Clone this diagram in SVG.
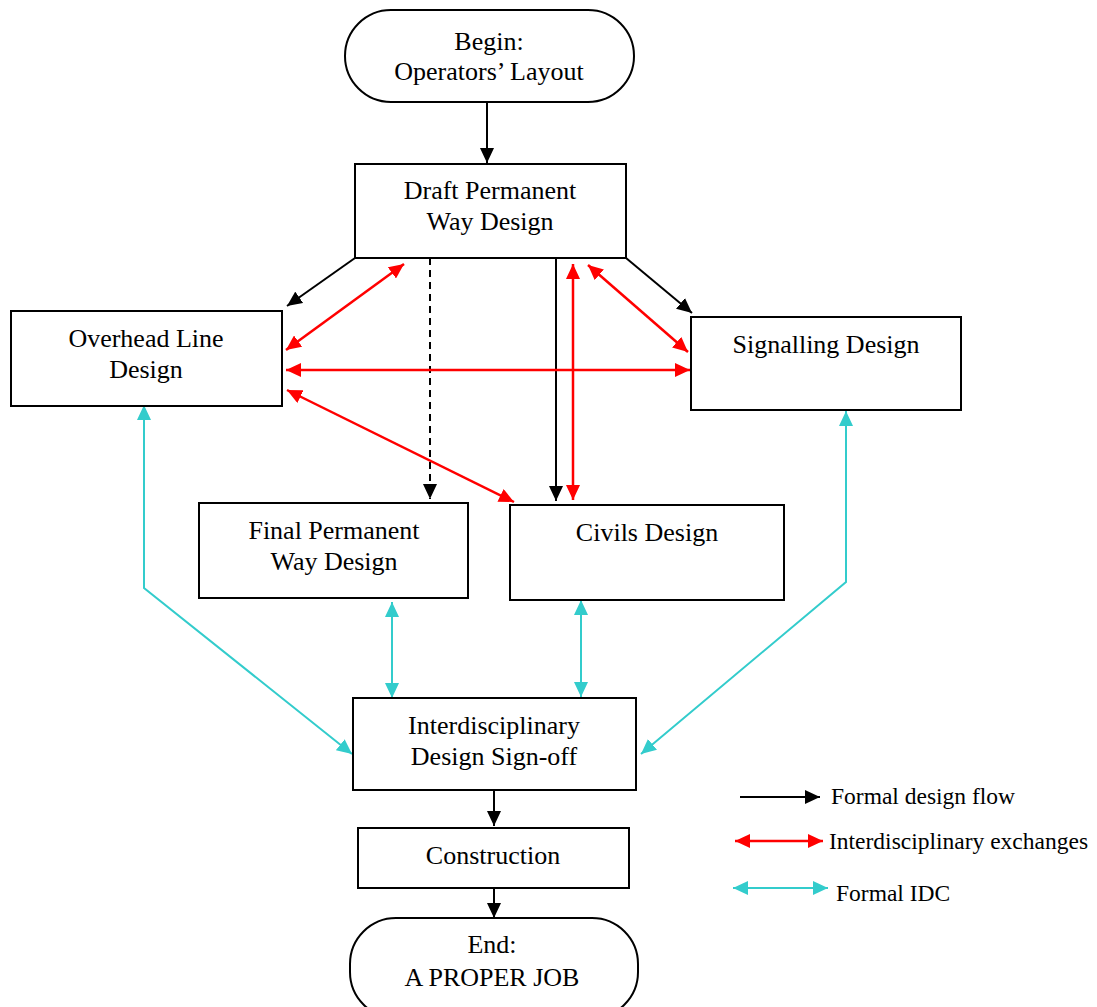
<svg xmlns="http://www.w3.org/2000/svg" width="1097" height="1007" viewBox="0 0 1097 1007">
<defs>
<style>
.box{fill:#fff;stroke:#000;stroke-width:2}
.t{font-family:"Liberation Serif","Times New Roman",serif;font-size:26px;fill:#000;text-anchor:middle}
.lt{font-family:"Liberation Serif","Times New Roman",serif;font-size:23.5px;fill:#000}
.k{stroke:#000;stroke-width:2;fill:none}
.r{stroke:#f00;stroke-width:2.5;fill:none}
.c{stroke:#33cccc;stroke-width:2;fill:none}
</style>
<marker id="ak" markerUnits="userSpaceOnUse" markerWidth="16" markerHeight="14" refX="15" refY="7" orient="auto-start-reverse"><path d="M0,0 L15,7 L0,14 z" fill="#000"/></marker>
<marker id="ar" markerUnits="userSpaceOnUse" markerWidth="16" markerHeight="14" refX="15" refY="7" orient="auto-start-reverse"><path d="M0,0 L15,7 L0,14 z" fill="#f00"/></marker>
<marker id="ac" markerUnits="userSpaceOnUse" markerWidth="16" markerHeight="14" refX="15" refY="7" orient="auto-start-reverse"><path d="M0,0 L15,7 L0,14 z" fill="#33cccc"/></marker>
</defs>
<rect width="1097" height="1007" fill="#fff"/>
<g id="connectors">
<line class="k" x1="487" y1="100" x2="487" y2="163" marker-end="url(#ak)"/>
<line class="k" x1="355" y1="258" x2="287" y2="306" marker-end="url(#ak)"/>
<line class="k" x1="626" y1="258" x2="692" y2="313" marker-end="url(#ak)"/>
<line class="k" x1="430" y1="258" x2="430" y2="499" stroke-dasharray="7,5" marker-end="url(#ak)"/>
<line class="k" x1="556" y1="258" x2="556" y2="501" marker-end="url(#ak)"/>
<line class="r" x1="573" y1="264" x2="573" y2="500" marker-start="url(#ar)" marker-end="url(#ar)"/>
<line class="r" x1="404" y1="264" x2="286" y2="350" marker-start="url(#ar)" marker-end="url(#ar)"/>
<line class="r" x1="588" y1="265" x2="688" y2="352" marker-start="url(#ar)" marker-end="url(#ar)"/>
<line class="r" x1="286" y1="370" x2="690" y2="370" marker-start="url(#ar)" marker-end="url(#ar)"/>
<line class="r" x1="287" y1="390" x2="514" y2="502" marker-start="url(#ar)" marker-end="url(#ar)"/>
<path class="c" d="M144,405 L144,588 L352,754" marker-start="url(#ac)" marker-end="url(#ac)"/>
<line class="c" x1="392" y1="602" x2="392" y2="698" marker-start="url(#ac)" marker-end="url(#ac)"/>
<line class="c" x1="581" y1="600" x2="581" y2="697" marker-start="url(#ac)" marker-end="url(#ac)"/>
<path class="c" d="M846,411 L846,582 L641,754" marker-start="url(#ac)" marker-end="url(#ac)"/>
<line class="k" x1="494" y1="790" x2="494" y2="826" marker-end="url(#ak)"/>
<line class="k" x1="494" y1="888" x2="494" y2="918" marker-end="url(#ak)"/>
</g>
<g id="begin">
<rect class="box" x="345" y="10" width="289" height="92" rx="46" ry="46"/>
<text class="t" x="489" y="50">Begin:</text>
<text class="t" x="489" y="80">Operators’ Layout</text>
</g>
<g id="draft">
<rect class="box" x="355" y="164" width="271" height="94"/>
<text class="t" x="490" y="199">Draft Permanent</text>
<text class="t" x="490" y="230">Way Design</text>
</g>
<g id="ohl">
<rect class="box" x="11" y="311" width="271" height="95"/>
<text class="t" x="146" y="347">Overhead Line</text>
<text class="t" x="146" y="378">Design</text>
</g>
<g id="signalling">
<rect class="box" x="691" y="317" width="270" height="93"/>
<text class="t" x="826" y="353">Signalling Design</text>
</g>
<g id="final">
<rect class="box" x="199" y="503" width="269" height="95"/>
<text class="t" x="334" y="539">Final Permanent</text>
<text class="t" x="334" y="570">Way Design</text>
</g>
<g id="civils">
<rect class="box" x="510" y="505" width="274" height="95"/>
<text class="t" x="647" y="541">Civils Design</text>
</g>
<g id="signoff">
<rect class="box" x="353" y="698" width="283" height="92"/>
<text class="t" x="494" y="734">Interdisciplinary</text>
<text class="t" x="494" y="765">Design Sign-off</text>
</g>
<g id="construction">
<rect class="box" x="358" y="828" width="271" height="60"/>
<text class="t" x="493" y="864">Construction</text>
</g>
<g id="end">
<rect class="box" x="350" y="918" width="288" height="100" rx="46" ry="46"/>
<text class="t" x="492" y="953">End:</text>
<text class="t" x="492" y="986">A PROPER JOB</text>
</g>
<g id="legend">
<line class="k" x1="740" y1="797" x2="820" y2="797" marker-end="url(#ak)"/>
<text class="lt" x="831" y="804">Formal design flow</text>
<line class="r" x1="735" y1="841" x2="823" y2="841" marker-start="url(#ar)" marker-end="url(#ar)"/>
<text class="lt" x="829" y="849">Interdisciplinary exchanges</text>
<line class="c" x1="733" y1="888" x2="828" y2="888" marker-start="url(#ac)" marker-end="url(#ac)"/>
<text class="lt" x="836" y="901">Formal IDC</text>
</g>
</svg>
